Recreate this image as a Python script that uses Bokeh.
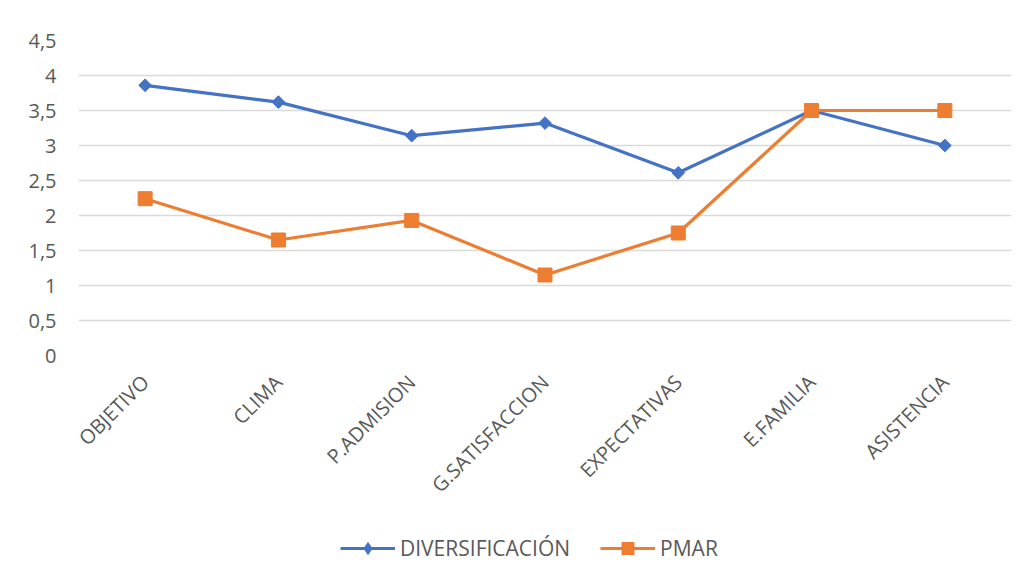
from bokeh.plotting import figure
from bokeh.layouts import column
from bokeh.models import FactorRange, Range1d, FixedTicker, Legend, LegendItem
from bokeh.embed import file_html
from bokeh.resources import INLINE
import math

categories = ["OBJETIVO", "CLIMA", "P.ADMISION", "G.SATISFACCION", "EXPECTATIVAS", "E.FAMILIA", "ASISTENCIA"]
diversificacion = [3.86, 3.62, 3.14, 3.32, 2.61, 3.5, 3.0]
pmar = [2.24, 1.65, 1.93, 1.15, 1.75, 3.5, 3.5]
y_ticks = [0, 0.5, 1, 1.5, 2, 2.5, 3, 3.5, 4, 4.5]
y_tick_labels = ["0", "0,5", "1", "1,5", "2", "2,5", "3", "3,5", "4", "4,5"]
series_names = ["DIVERSIFICACIÓN", "PMAR"]

BLUE = "#4472C4"
ORANGE = "#ED7D31"
TXT = "#595959"
FONT = "Open Sans"
FS = "20px"

p = figure(width=1012, height=510, output_backend="svg", toolbar_location=None,
           x_range=FactorRange(*categories, range_padding=0),
           y_range=Range1d(0, 4.5),
           min_border_left=78, min_border_right=1, min_border_top=40, min_border_bottom=153)
p.outline_line_color = None
p.background_fill_color = "white"

p.xgrid.grid_line_color = None
p.ygrid.grid_line_color = "#d9d9d9"
p.ygrid.grid_line_width = 1.3

p.yaxis.ticker = FixedTicker(ticks=y_ticks)
p.yaxis.major_label_overrides = {t: l for t, l in zip(y_ticks, y_tick_labels)}
for ax in (p.xaxis[0], p.yaxis[0]):
    ax.axis_line_color = None
    ax.major_tick_line_color = None
    ax.minor_tick_line_color = None
    ax.major_label_text_color = TXT
    ax.major_label_text_font = FONT
    ax.major_label_text_font_size = FS
p.yaxis.major_label_standoff = 16
p.xaxis.major_label_orientation = math.pi / 4
p.xaxis.major_label_standoff = 17

p.line(categories, diversificacion, line_color=BLUE, line_width=3.2)
p.scatter(categories, diversificacion, marker="square", angle=math.pi / 4, size=9,
          fill_color=BLUE, line_color=BLUE)
p.line(categories, pmar, line_color=ORANGE, line_width=3.2)
p.scatter(categories, pmar, marker="square", size=14, fill_color=ORANGE, line_color=ORANGE)

# legend strip below the chart
lg = figure(width=1012, height=58, output_backend="svg", toolbar_location=None,
            x_range=Range1d(0, 1), y_range=Range1d(0, 1),
            min_border=0, x_axis_type=None, y_axis_type=None)
lg.outline_line_color = None
lg.xgrid.grid_line_color = None
lg.ygrid.grid_line_color = None
nan = float("nan")
d1 = lg.line([nan], [nan], line_color=BLUE, line_width=3.2)
d1m = lg.scatter([nan], [nan], marker="diamond", size=17, fill_color=BLUE, line_color=BLUE)
d2 = lg.line([nan], [nan], line_color=ORANGE, line_width=3.2)
d2m = lg.scatter([nan], [nan], marker="square", size=14, fill_color=ORANGE, line_color=ORANGE)

legend = Legend(items=[LegendItem(label=series_names[0], renderers=[d1, d1m]),
                       LegendItem(label=series_names[1], renderers=[d2, d2m])],
                orientation="horizontal", location=(262, 5),
                label_text_font=FONT, label_text_font_size="21px", label_text_color=TXT,
                glyph_width=55, glyph_height=30, label_height=30,
                label_standoff=5, spacing=30, border_line_color=None,
                background_fill_alpha=0, margin=0, padding=0)
lg.add_layout(legend, "center")

layout = column(p, lg, spacing=0)
open("out.html", "w").write(file_html(layout, INLINE))
